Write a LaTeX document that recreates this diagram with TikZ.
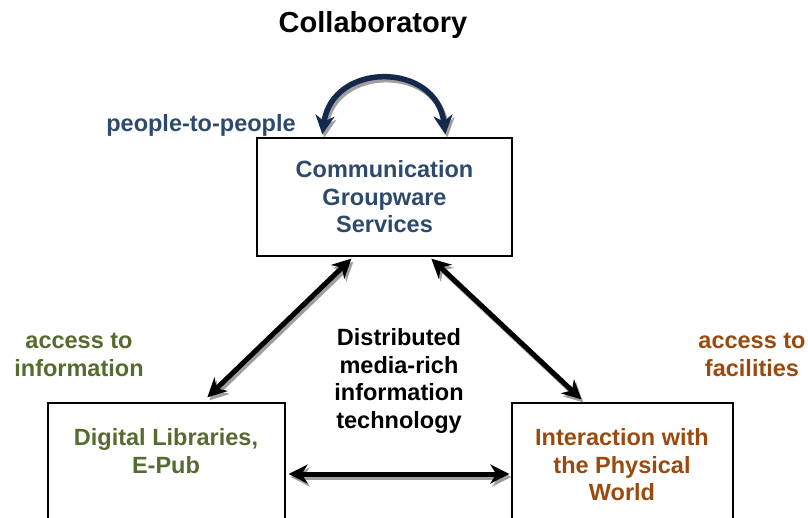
\documentclass[tikz,border=0pt]{standalone}
\usepackage{fontspec}
\setmainfont{Liberation Sans}
\usetikzlibrary{arrows.meta,positioning,calc}
\definecolor{commblue}{HTML}{2D4A6E}
\definecolor{navyarc}{HTML}{14294B}
\definecolor{libgreen}{HTML}{566B2E}
\definecolor{physbrown}{HTML}{9A4A0E}

\tikzset{
  box/.style={draw, line width=1.3pt, inner sep=0pt},
  txt/.style={font=\bfseries\fontsize{23.5}{27.5}\selectfont, align=center},
  link/.style={line width=5pt, {Stealth[length=19pt,width=19pt,inset=6pt]}-{Stealth[length=19pt,width=19pt,inset=6pt]}},
  linkshade/.style={link, draw=gray!75, transform canvas={shift={(2pt,-3pt)}}},
}

\begin{document}
\begin{tikzpicture}[x=1pt,y=-1pt]
  \clip (0,0) rectangle (808,517);
  \fill[white] (0,0) rectangle (808,517);

  % title
  \node[txt, font=\bfseries\fontsize{29}{33}\selectfont] (title) at (373,25) {Collaboratory};

  % boxes
  \node[box, txt, text=commblue, minimum width=255pt, minimum height=118pt] (comm) at (384.5,197)
    {Communication\\Groupware\\Services};
  \node[box, minimum width=237pt, minimum height=142pt] (lib) at (166.5,474) {};
  \node[box, minimum width=221pt, minimum height=142pt] (phys) at (622.5,474) {};
  \node[txt, text=libgreen] (libtxt) at (166,451) {Digital Libraries,\\E-Pub};
  \node[txt, text=physbrown] (phystxt) at (622,465) {Interaction with\\the Physical\\World};

  % side labels
  \node[txt, text=commblue] (people) at (201,125) {people-to-people};
  \node[txt, text=libgreen] (access) at (79,355) {access to\\information};
  \node[txt, text=physbrown] (facil) at (752,355) {access to\\facilities};
  \node[txt] (media) at (399,381) {Distributed\\media-rich\\information\\technology};

  % links with shadows
  \draw[linkshade] ($(comm.south west)+(95,2)$) -- ($(lib.north west)+(160,-5)$);
  \draw[link] ($(comm.south west)+(95,2)$) -- ($(lib.north west)+(160,-5)$);
  \draw[linkshade] ($(comm.south west)+(175,2)$) -- ($(phys.north west)+(70,-3)$);
  \draw[link] ($(comm.south west)+(175,2)$) -- ($(phys.north west)+(70,-3)$);
  \draw[linkshade] ([xshift=3pt]lib.east) -- ([xshift=-2pt]phys.west);
  \draw[link] ([xshift=3pt]lib.east) -- ([xshift=-2pt]phys.west);

  % people-to-people loop
  \draw[linkshade, line width=5.5pt] ($(comm.north west)+(66,-3)$) .. controls +(10,-73) and +(-9,-73) .. ($(comm.north west)+(189,-3)$);
  \draw[link, line width=5.5pt, draw=navyarc] ($(comm.north west)+(66,-3)$) .. controls +(10,-73) and +(-9,-73) .. ($(comm.north west)+(189,-3)$);
\end{tikzpicture}
\end{document}
